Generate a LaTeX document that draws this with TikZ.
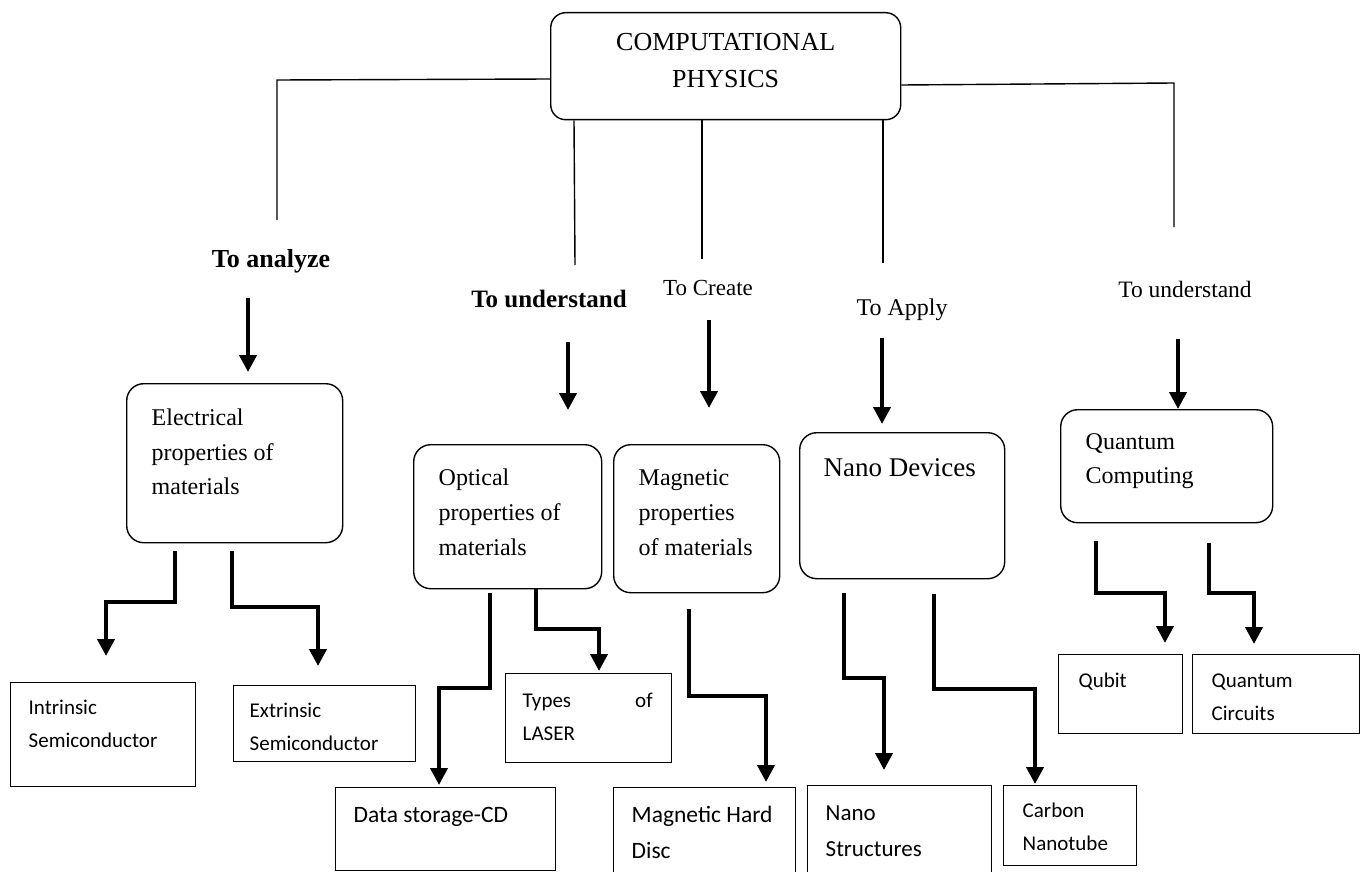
\documentclass[tikz,border=0pt]{standalone}
\usepackage{fontspec}
\setmainfont{Liberation Serif}
\newfontfamily\sansbox{Carlito}
\usetikzlibrary{arrows.meta,calc}

% box body: width, height, left padding, first baseline offset, text
\newcommand\cellbody[5]{\parbox[c][#2][t]{#1}{\raggedright\leftskip=#3\rule{0pt}{#4}#5}}

\begin{document}
\begin{tikzpicture}[x=1pt,y=-1pt,
  thinline/.style={line width=1.4pt},
  flow/.style={line width=4pt,-{Triangle[width=17pt,length=17pt]}},
  topic/.style={draw,line width=1.4pt,rounded corners=17pt,anchor=north west,inner sep=0pt,
    font=\fontsize{24}{35}\selectfont},
  leaf/.style={draw,line width=1.4pt,anchor=north west,inner sep=0pt,
    font=\sansbox\fontsize{21}{33}\selectfont},
  aim/.style={inner sep=0pt,anchor=base,font=\fontsize{24}{28}\selectfont},
  aimbold/.style={inner sep=0pt,anchor=base,font=\bfseries\fontsize{25}{28}\selectfont},
]
\useasboundingbox (0,0) rectangle (1360,872);

% root
\node[draw,line width=1.4pt,rounded corners=15pt,anchor=north west,inner sep=0pt,
  font=\fontsize{26}{37}\selectfont]
  (top) at (550,12) {\parbox[c][107pt][t]{350pt}{\centering\rule{0pt}{38pt}COMPUTATIONAL\\PHYSICS}};

% purposes
\node[aimbold,font=\bfseries\fontsize{26}{28}\selectfont] (la1) at (271,267) {To analyze};
\node[aimbold] (la2) at (549,307) {To understand};
\node[aim,font=\fontsize{23}{28}\selectfont] (la3) at (708,295) {To Create};
\node[aim] (la4) at (902,315) {To Apply};
\node[aim,font=\fontsize{23.5}{28}\selectfont] (la5) at (1185,297) {To understand};

% topics
\node[topic,font=\fontsize{24}{34.5}\selectfont] (elec) at (126,383) {\cellbody{216pt}{159pt}{25pt}{42pt}{Electrical\\properties of\\materials}};
\node[topic] (opt) at (413,444) {\cellbody{188pt}{144pt}{25pt}{41pt}{Optical\\properties of\\materials}};
\node[topic] (mag) at (613,444) {\cellbody{166pt}{148pt}{25pt}{41pt}{Magnetic\\properties\\of materials}};
\node[topic,font=\fontsize{27}{35}\selectfont] (nano) at (799,432) {\cellbody{205pt}{146pt}{24pt}{44pt}{Nano Devices}};
\node[topic,font=\fontsize{24}{34}\selectfont] (qc) at (1060,409) {\cellbody{212pt}{113pt}{25pt}{40pt}{Quantum\\Computing}};

% applications
\node[leaf] (intr) at (10,682) {\cellbody{185pt}{104pt}{18pt}{32pt}{Intrinsic\\Semiconductor}};
\node[leaf] (extr) at (233,685) {\cellbody{182pt}{76pt}{16pt}{32pt}{Extrinsic\\Semiconductor}};
\node[leaf] (laser) at (505,673) {\cellbody{166pt}{89pt}{17pt}{34pt}{Types\hfill of\rule{19pt}{0pt}\\LASER}};
\node[leaf,font=\sansbox\fontsize{23.5}{36}\selectfont] (cd) at (335,787) {\cellbody{220pt}{83pt}{18pt}{35pt}{Data storage-CD}};
\node[leaf,font=\sansbox\fontsize{23.5}{36}\selectfont] (hd) at (613,787) {\cellbody{182pt}{90pt}{18pt}{35pt}{Magnetic Hard\\Disc}};
\node[leaf,font=\sansbox\fontsize{23}{36}\selectfont] (ns) at (807,785) {\cellbody{184pt}{90pt}{18pt}{35pt}{Nano\\Structures}};
\node[leaf] (cn) at (1003,785) {\cellbody{133pt}{80pt}{19pt}{32pt}{Carbon\\Nanotube}};
\node[leaf] (qb) at (1058,654) {\cellbody{124pt}{79pt}{20pt}{33pt}{Qubit}};
\node[leaf] (qcirc) at (1192,654) {\cellbody{167pt}{79pt}{19pt}{33pt}{Quantum\\Circuits}};

% free ends of the thin branches
\coordinate (b1) at (277,220);
\coordinate (b2) at (575,265);
\coordinate (b3) at (702,259);
\coordinate (b4) at (883,263);
\coordinate (b5) at (1174,227);

\draw[thinline] ($(top.north west)+(0,67)$) -- (b1 |- 0,80) -- (b1);
\draw[thinline] ($(top.north east)+(0,73)$) -- (b5 |- 0,83) -- (b5);
\draw[thinline] (top.south west -| 574,0) -- (b2);
\draw[thinline] (top.south west -| 702,0) -- (b3);
\draw[thinline] (top.south west -| 883,0) -- (b4);

% purpose arrows
\draw[flow] ($(la1.base)+(-23,31)$) -- ($(elec.north west)+(122,-11)$);
\draw[flow] ($(la2.base)+(19,35)$) -- ($(opt.north west)+(155,-34)$);
\draw[flow] ($(la3.base)+(1,25)$) -- ($(mag.north west)+(96,-36)$);
\draw[flow] ($(la4.base)+(-20,23)$) -- ($(nano.north west)+(83,-8)$);
\draw[flow] ($(la5.base)+(-7,42)$) -- ($(qc.north west)+(118,0)$);

% branch arrows
\draw[flow] ($(elec.south west)+(49,8)$) coordinate (s) -- (s |- 0,602) -| ($(intr.north west)+(96,-26)$);
\draw[flow] ($(elec.south west)+(106,8)$) coordinate (s) -- (s |- 0,607) -| ($(extr.north west)+(85,-19)$);
\draw[flow] ($(opt.south west)+(77,4)$) coordinate (s) -- (s |- 0,688) -| ($(cd.north west)+(104,-2)$);
\draw[flow] ($(opt.south west)+(123,-1)$) coordinate (s) -- (s |- 0,629) -| ($(laser.north west)+(94,-2)$);
\draw[flow] ($(mag.south west)+(76,16)$) coordinate (s) -- (s |- 0,696) -| ($(hd.north west)+(153,-5)$);
\draw[flow] ($(nano.south west)+(45,14)$) coordinate (s) -- (s |- 0,678) -| ($(ns.north west)+(77,-15)$);
\draw[flow] ($(nano.south west)+(135,15)$) coordinate (s) -- (s |- 0,689) -| ($(cn.north west)+(32,-1)$);
\draw[flow] ($(qc.south west)+(36,18)$) coordinate (s) -- (s |- 0,593) -| ($(qb.north west)+(107,-11)$);
\draw[flow] ($(qc.south west)+(149,20)$) coordinate (s) -- (s |- 0,593) -| ($(qcirc.north west)+(62,-10)$);
\end{tikzpicture}
\end{document}
